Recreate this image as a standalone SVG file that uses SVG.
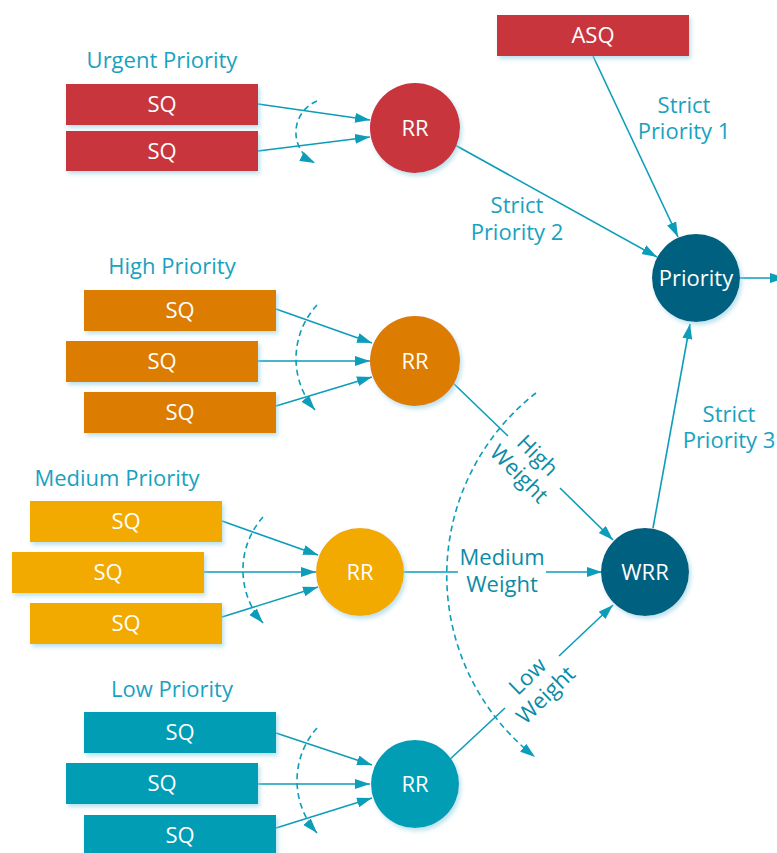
<svg xmlns="http://www.w3.org/2000/svg" width="777" height="853" viewBox="0 0 777 853">
  <style>
    text { font-family: "Open Sans", "Noto Sans", "Liberation Sans", sans-serif; font-size: 22px; text-anchor: middle; }
    .in { fill: #ffffff; }
    .lbl { fill: #17A2C0; }
    .wt { fill: #0C8CA6; }
    .q { filter: url(#shadow); }
    .red { fill: #C8343C; }
    .orange { fill: #DC7B00; }
    .yellow { fill: #F2AA00; }
    .teal { fill: #039DB5; }
    .dark { fill: #01607F; }
    .link { fill: none; stroke: #0C9DBA; stroke-width: 1.6; }
    .arrow { marker-end: url(#head); }
    .dash { stroke-dasharray: 6 4; }
  </style>
  <defs>
    <filter id="shadow" x="-20%" y="-20%" width="140%" height="150%">
      <feDropShadow dx="2" dy="3" stdDeviation="2" flood-color="#8FCFE0" flood-opacity="0.6"/>
    </filter>
    <marker id="head" markerUnits="userSpaceOnUse" markerWidth="16" markerHeight="11" refX="15" refY="5" orient="auto">
      <path d="M0,0 L15,5 L0,10 z" fill="#0C9DBA"/>
    </marker>
  </defs>

  <rect width="777" height="853" fill="#ffffff"/>

  <!-- connectors -->
  <g id="connectors">
    <!-- urgent queues -->
    <path class="link arrow" d="M258,104 L370,120"/>
    <path class="link arrow" d="M258,151 L370,137"/>
    <path class="link arrow dash" d="M317,101 A34,34 0 0 0 315,163"/>
    <!-- high queues -->
    <path class="link arrow" d="M276,309 L372,343"/>
    <path class="link arrow" d="M258,361 L370,361"/>
    <path class="link arrow" d="M276,406 L372,377"/>
    <path class="link arrow dash" d="M317,305 A79,79 0 0 0 315,410"/>
    <!-- medium queues -->
    <path class="link arrow" d="M222,521 L318,555"/>
    <path class="link arrow" d="M204,572 L316,572"/>
    <path class="link arrow" d="M222,617 L318,587"/>
    <path class="link arrow dash" d="M263,517 A80,80 0 0 0 263,623"/>
    <!-- low queues -->
    <path class="link arrow" d="M276,733 L372,765"/>
    <path class="link arrow" d="M258,784 L370,784"/>
    <path class="link arrow" d="M276,828 L372,798"/>
    <path class="link arrow dash" d="M317,728 A79,79 0 0 0 317,833"/>
    <!-- scheduler tree -->
    <path class="link arrow" d="M455,145 L657,257"/>
    <path class="link arrow" d="M593,56 L678,237"/>
    <path class="link arrow" d="M653,528 L690,324"/>
    <path class="link arrow" d="M739,278 L785,278"/>
    <path class="link" d="M453,383 L508,436"/>
    <path class="link arrow" d="M560,488 L613,540"/>
    <path class="link" d="M404,572 L458,572"/>
    <path class="link arrow" d="M546,572 L602,572"/>
    <path class="link" d="M447,762 L505,708"/>
    <path class="link arrow" d="M559,656 L613,605"/>
    <path class="link arrow dash" d="M536,393 A231,231 0 0 0 535,757"/>
  </g>

  <!-- edge labels -->
  <g id="edge-labels">
    <text class="lbl" x="684" y="113">Strict<tspan x="684" dy="26">Priority 1</tspan></text>
    <text class="lbl" x="517" y="213">Strict<tspan x="517" dy="27">Priority 2</tspan></text>
    <text class="lbl" x="729" y="422">Strict<tspan x="729" dy="26">Priority 3</tspan></text>
    <text class="wt" transform="translate(528,465) rotate(45)" x="0" y="-6">High<tspan x="0" dy="26">Weight</tspan></text>
    <text class="wt" x="502" y="565">Medium<tspan x="502" dy="27">Weight</tspan></text>
    <text class="wt" transform="translate(537,686) rotate(-44)" x="0" y="-6">Low<tspan x="0" dy="26">Weight</tspan></text>
  </g>

  <!-- urgent class -->
  <g id="urgent">
    <text class="lbl" x="162" y="68">Urgent Priority</text>
    <rect class="q red" x="66" y="84" width="192" height="41"/>
    <text class="in" x="162" y="112">SQ</text>
    <rect class="q red" x="66" y="131" width="192" height="40"/>
    <text class="in" x="162" y="159">SQ</text>
  </g>
  <g id="rr-urgent">
    <circle class="q red" cx="415" cy="128" r="45"/>
    <text class="in" x="415" y="136">RR</text>
  </g>

  <!-- high class -->
  <g id="high">
    <text class="lbl" x="172" y="274">High Priority</text>
    <rect class="q orange" x="84" y="290" width="192" height="41"/>
    <text class="in" x="180" y="318">SQ</text>
    <rect class="q orange" x="66" y="341" width="192" height="41"/>
    <text class="in" x="162" y="369">SQ</text>
    <rect class="q orange" x="84" y="392" width="192" height="41"/>
    <text class="in" x="180" y="420">SQ</text>
  </g>
  <g id="rr-high">
    <circle class="q orange" cx="415" cy="361" r="45"/>
    <text class="in" x="415" y="369">RR</text>
  </g>

  <!-- medium class -->
  <g id="medium">
    <text class="lbl" x="117" y="486">Medium Priority</text>
    <rect class="q yellow" x="30" y="501" width="192" height="41"/>
    <text class="in" x="126" y="529">SQ</text>
    <rect class="q yellow" x="12" y="552" width="192" height="41"/>
    <text class="in" x="108" y="580">SQ</text>
    <rect class="q yellow" x="30" y="603" width="192" height="41"/>
    <text class="in" x="126" y="631">SQ</text>
  </g>
  <g id="rr-medium">
    <circle class="q yellow" cx="360" cy="572" r="44"/>
    <text class="in" x="360" y="580">RR</text>
  </g>

  <!-- low class -->
  <g id="low">
    <text class="lbl" x="172" y="697">Low Priority</text>
    <rect class="q teal" x="84" y="712" width="192" height="41"/>
    <text class="in" x="180" y="740">SQ</text>
    <rect class="q teal" x="66" y="763" width="192" height="41"/>
    <text class="in" x="162" y="791">SQ</text>
    <rect class="q teal" x="84" y="815" width="192" height="41"/>
    <text class="in" x="180" y="843">SQ</text>
  </g>
  <g id="rr-low">
    <circle class="q teal" cx="415" cy="784" r="44"/>
    <text class="in" x="415" y="792">RR</text>
  </g>

  <!-- top-level schedulers -->
  <g id="asq">
    <rect class="q red" x="497" y="15" width="192" height="41"/>
    <text class="in" x="593" y="43">ASQ</text>
  </g>
  <g id="priority">
    <circle class="q dark" cx="696" cy="278" r="44"/>
    <text class="in" x="696" y="286">Priority</text>
  </g>
  <g id="wrr">
    <circle class="q dark" cx="645" cy="572" r="44"/>
    <text class="in" x="645" y="580">WRR</text>
  </g>
</svg>
